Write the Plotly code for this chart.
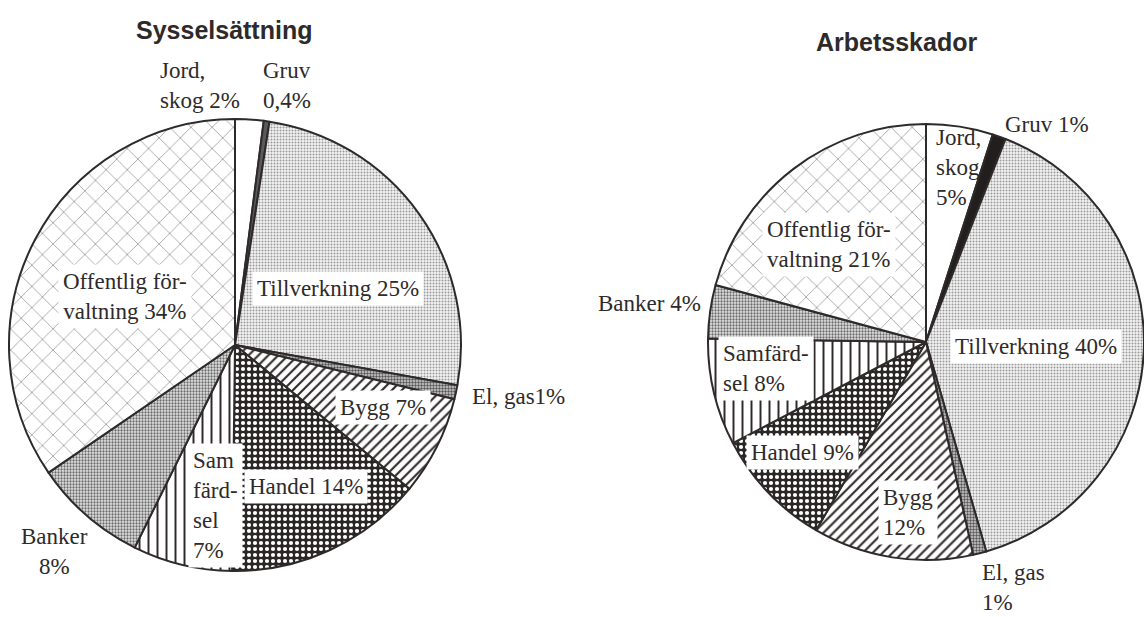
import plotly.graph_objects as go

W, H = 1144, 617

# ---------------- data ----------------
categories = ["Jord, skog", "Gruv", "Tillverkning", "El, gas", "Bygg",
              "Handel", "Samfärdsel", "Banker", "Offentlig förvaltning"]
sysselsattning = [2, 0.4, 25, 1, 7, 14, 7, 8, 34]
arbetsskador = [5, 1, 40, 1, 12, 9, 8, 4, 21]
titles = ["Sysselsättning", "Arbetsskador"]

# label templates (how each label wraps in the picture)
left_templates = {
    "Jord, skog": "Jord,<br>skog {v}",
    "Gruv": "Gruv<br>{v}",
    "Tillverkning": "Tillverkning {v}",
    "El, gas": "El, gas{v}",
    "Bygg": "Bygg {v}",
    "Handel": "Handel {v}",
    "Samfärdsel": "Sam<br>färd-<br>sel<br>{v}",
    "Banker": "Banker<br>{v}",
    "Offentlig förvaltning": "Offentlig för-<br>valtning {v}",
}
right_templates = {
    "Jord, skog": "Jord,<br>skog<br>{v}",
    "Gruv": "Gruv {v}",
    "Tillverkning": "Tillverkning {v}",
    "El, gas": "El, gas<br>{v}",
    "Bygg": "Bygg<br>{v}",
    "Handel": "Handel {v}",
    "Samfärdsel": "Samfärd-<br>sel {v}",
    "Banker": "Banker {v}",
    "Offentlig förvaltning": "Offentlig för-<br>valtning {v}",
}

# ---------------- layout / style (pixel positions) ----------------
# (x, y, xanchor, align, boxed)
left_pos = {
    "Jord, skog": (155, 85, "left", "left", False),
    "Gruv": (258, 85, "left", "left", False),
    "Tillverkning": (338, 288, "center", "left", True),
    "El, gas": (467, 396, "left", "left", False),
    "Bygg": (383, 407, "center", "left", True),
    "Handel": (306, 487, "center", "left", True),
    "Samfärdsel": (188, 505, "left", "left", True),
    "Banker": (54, 551, "center", "center", False),
    "Offentlig förvaltning": (125, 296, "center", "center", True),
}
right_pos = {
    "Jord, skog": (931, 168, "left", "left", False),
    "Gruv": (1000, 124, "left", "left", False),
    "Tillverkning": (1036, 346, "center", "left", True),
    "El, gas": (977, 587, "left", "left", False),
    "Bygg": (878, 512, "left", "left", True),
    "Handel": (803, 452, "center", "left", True),
    "Samfärdsel": (718, 368, "left", "left", True),
    "Banker": (593, 303, "left", "left", False),
    "Offentlig förvaltning": (762, 244, "left", "left", True),
}

INK = "#2e2a2a"
# styles per category: (shape, fg, bg, size, solidity)
styles = {
    "Jord, skog": ("", INK, "#ffffff", 8, 0.3),
    "Gruv": ("", INK, "#555555", 8, 0.3),
    "Tillverkning": (".", "#9a9a9a", "#f3f3f3", 3, 0.35),
    "El, gas": (".", "#555555", "#d0d0d0", 3, 0.5),
    "Bygg": ("/", INK, "#ffffff", 7, 0.3),
    "Handel": (".", "#ffffff", "#2b2727", 6, 0.38),
    "Samfärdsel": ("|", INK, "#ffffff", 9, 0.22),
    "Banker": (".", "#6a6a6a", "#e4e4e4", 3, 0.45),
    "Offentlig förvaltning": ("x", "#7a7a7a", "#ffffff", 15, 0.08),
}


def fmt(v):
    s = ("%g" % v).replace(".", ",")
    return s + "%"


def pie(values, domx, domy, gruv_color):
    bg = [styles[c][2] for c in categories]
    bg[categories.index("Gruv")] = gruv_color
    return go.Pie(
        labels=categories, values=values, sort=False, direction="clockwise",
        rotation=0, textinfo="none", hoverinfo="skip", showlegend=False,
        domain=dict(x=domx, y=domy),
        marker=dict(
            colors=bg,
            line=dict(color=INK, width=2),
            pattern=dict(
                shape=[styles[c][0] for c in categories],
                fgcolor=[styles[c][1] for c in categories],
                bgcolor=bg,
                size=[styles[c][3] for c in categories],
                solidity=[styles[c][4] for c in categories],
                fillmode="replace",
            ),
        ),
    )


def px_dom(cx, cy, r):
    x0, x1 = max(0, cx - r) / W, min(W, cx + r) / W
    y0, y1 = 1 - (cy + r) / H, 1 - (cy - r) / H
    return [x0, x1], [y0, y1]


fig = go.Figure()
lx, ly = px_dom(235, 345, 226)
fig.add_trace(pie(sysselsattning, lx, ly, "#5a5a5a"))
rx, ry = [708 / W, 1.0], [1 - 560 / H, 1 - 124 / H]
fig.add_trace(pie(arbetsskador, rx, ry, "#221e1e"))

FONT = "Liberation Serif"
annotations = []
for vals, templ, pos in [(sysselsattning, left_templates, left_pos),
                         (arbetsskador, right_templates, right_pos)]:
    for c, v in zip(categories, vals):
        x, y, xa, al, boxed = pos[c]
        annotations.append(dict(
            text=templ[c].format(v=fmt(v)), x=x / W, y=1 - y / H,
            xref="paper", yref="paper", xanchor=xa, yanchor="middle",
            align=al, showarrow=False,
            font=dict(family=FONT, size=23, color=INK),
            bgcolor="#ffffff" if boxed else None, borderpad=4,
        ))

for t, (x, y) in zip(titles, [(224, 30), (896, 42)]):
    annotations.append(dict(
        text="<b>%s</b>" % t, x=x / W, y=1 - y / H, xref="paper", yref="paper",
        xanchor="center", yanchor="middle", showarrow=False,
        font=dict(family="Liberation Sans", size=25, color=INK),
    ))

fig.update_layout(
    width=W, height=H, margin=dict(l=0, r=0, t=0, b=0),
    paper_bgcolor="#ffffff", plot_bgcolor="#ffffff",
    annotations=annotations,
)
fig.write_html("out.html",
               config={"displayModeBar": False},
               post_script="document.body.style.margin='0px';"
                           "document.body.style.overflow='hidden';")
